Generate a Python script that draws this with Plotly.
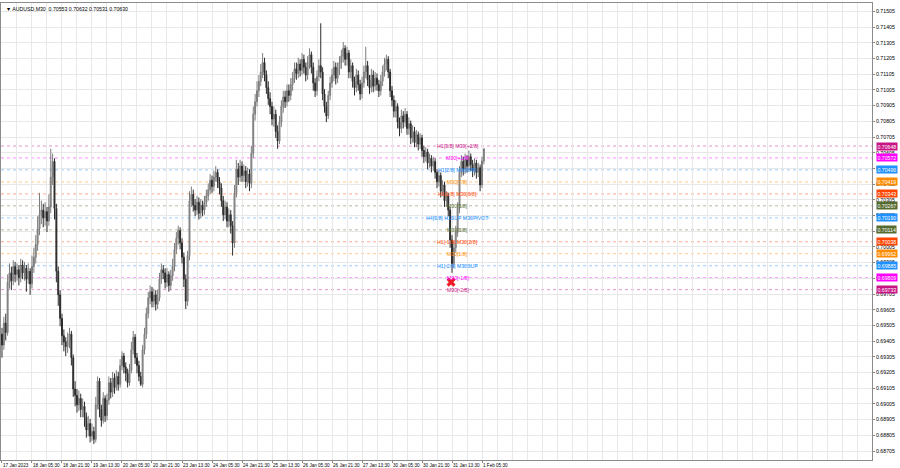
import plotly.graph_objects as go

# ---------------- data (AUDUSD, candles) ----------------
opens = [
0.6945,0.6938,0.6952,0.6946,0.6978,0.6984,0.6979,0.6988,0.6983,0.6986,
0.6981,0.6989,0.6984,0.6987,0.6980,0.6985,0.6977,0.6988,0.6994,0.7002,
0.7012,0.7021,0.7024,0.7019,0.7023,0.7017,0.7026,0.7045,0.7055,0.7025,
0.6985,0.6970,0.6955,0.6944,0.6940,0.6937,0.6941,0.6945,0.6930,0.6910,
0.6906,0.6900,0.6904,0.6897,0.6899,0.6892,0.6884,0.6888,0.6880,0.6883,
0.6878,0.6900,0.6915,0.6897,0.6890,0.6904,0.6893,0.6903,0.6914,0.6908,
0.6917,0.6911,0.6918,0.6913,0.6925,0.6931,0.6924,0.6920,0.6914,0.6922,
0.6935,0.6943,0.6930,0.6925,0.6918,0.6913,0.6935,0.6945,0.6958,0.6968,
0.6972,0.6966,0.6970,0.6964,0.6968,0.6980,0.6986,0.6984,0.6978,0.6983,
0.6976,0.6982,0.6988,0.6999,0.7006,0.7011,0.7003,0.6994,0.6980,0.6966,
0.6995,0.7030,0.7034,0.7027,0.7024,0.7029,0.7022,0.7027,0.7024,0.7029,
0.7033,0.7037,0.7043,0.7039,0.7045,0.7048,0.7042,0.7038,0.7030,0.7021,
0.7026,0.7017,0.7021,0.7014,0.7003,0.7035,0.7050,0.7045,0.7052,0.7046,
0.7049,0.7042,0.7047,0.7041,0.7060,0.7085,0.7093,0.7100,0.7106,0.7112,
0.7118,0.7110,0.7102,0.7095,0.7090,0.7082,0.7085,0.7074,0.7068,0.7080,
0.7090,0.7096,0.7093,0.7100,0.7097,0.7104,0.7108,0.7114,0.7111,0.7117,
0.7113,0.7120,0.7115,0.7110,0.7118,0.7123,0.7115,0.7105,0.7100,0.7109,
0.7116,0.7112,0.7098,0.7090,0.7084,0.7097,0.7105,0.7110,0.7115,0.7108,
0.7114,0.7118,0.7122,0.7127,0.7120,0.7124,0.7112,0.7116,0.7106,0.7102,
0.7110,0.7104,0.7098,0.7105,0.7112,0.7116,0.7107,0.7102,0.7110,0.7103,
0.7108,0.7104,0.7100,0.7106,0.7112,0.7117,0.7120,0.7112,0.7100,0.7094,
0.7087,0.7090,0.7080,0.7076,0.7084,0.7080,0.7085,0.7076,0.7079,0.7070,
0.7074,0.7067,0.7072,0.7066,0.7070,0.7062,0.7058,0.7061,0.7054,0.7057,
0.7052,0.7055,0.7048,0.7042,0.7046,0.7036,0.7040,0.7030,0.7033,0.7024,
0.7005,0.6990,0.7000,0.7010,0.7025,0.7048,0.7055,0.7050,0.7056,0.7052,
0.7058,0.7053,0.7049,0.7054,0.7048,0.7051,0.7040,0.70553]

highs = [
0.6949,0.6956,0.6958,0.6983,0.6990,0.6988,0.6992,0.6991,0.6990,0.6989,
0.6993,0.6992,0.6991,0.6989,0.6990,0.6987,0.6995,0.7000,0.7008,0.7020,
0.7035,0.7030,0.7028,0.7029,0.7026,0.7034,0.7063,0.7060,0.7057,0.7028,
0.6988,0.6973,0.6958,0.6948,0.6943,0.6946,0.6949,0.6947,0.6932,0.6915,
0.6910,0.6909,0.6907,0.6904,0.6902,0.6895,0.6893,0.6891,0.6888,0.6886,
0.6905,0.6918,0.6917,0.6900,0.6908,0.6906,0.6907,0.6918,0.6917,0.6921,
0.6920,0.6922,0.6921,0.6929,0.6934,0.6933,0.6927,0.6923,0.6926,0.6940,
0.6947,0.6945,0.6933,0.6928,0.6921,0.6938,0.6949,0.6962,0.6972,0.6976,
0.6975,0.6974,0.6973,0.6973,0.6984,0.6990,0.6989,0.6987,0.6987,0.6985,
0.6986,0.6993,0.7003,0.7010,0.7014,0.7013,0.7006,0.6997,0.6983,0.6998,
0.7036,0.7039,0.7037,0.7031,0.7033,0.7032,0.7031,0.7030,0.7033,0.7037,
0.7041,0.7047,0.7046,0.7049,0.7052,0.7050,0.7045,0.7041,0.7033,0.7030,
0.7029,0.7025,0.7024,0.7017,0.7040,0.7056,0.7054,0.7056,0.7055,0.7053,
0.7052,0.7051,0.7050,0.7065,0.7090,0.7098,0.7106,0.7110,0.7117,0.7124,
0.7121,0.7113,0.7106,0.7099,0.7093,0.7090,0.7088,0.7078,0.7084,0.7094,
0.7100,0.7100,0.7104,0.7104,0.7108,0.7112,0.7118,0.7118,0.7121,0.7120,
0.7124,0.7123,0.7118,0.7122,0.7127,0.7125,0.7118,0.7108,0.7113,0.7120,
0.7143,0.7115,0.7101,0.7093,0.7100,0.7109,0.7114,0.7119,0.7118,0.7118,
0.7122,0.7126,0.7131,0.7129,0.7128,0.7126,0.7120,0.7118,0.7109,0.7114,
0.7113,0.7107,0.7109,0.7116,0.7128,0.7119,0.7110,0.7114,0.7113,0.7112,
0.7111,0.7107,0.7110,0.7116,0.7121,0.7123,0.7122,0.7114,0.7103,0.7097,
0.7094,0.7092,0.7083,0.7088,0.7087,0.7089,0.7087,0.7083,0.7081,0.7078,
0.7077,0.7075,0.7074,0.7073,0.7072,0.7065,0.7064,0.7063,0.7060,0.7059,
0.7058,0.7057,0.7050,0.7049,0.7048,0.7043,0.7042,0.7036,0.7035,0.7026,
0.7008,0.7004,0.7014,0.7029,0.7052,0.7059,0.7058,0.7060,0.7059,0.7062,
0.7060,0.7056,0.7057,0.7056,0.7054,0.7053,0.7058,0.70632]

lows = [
0.6930,0.6935,0.6941,0.6944,0.6974,0.6973,0.6976,0.6978,0.6979,0.6976,
0.6978,0.6980,0.6979,0.6972,0.6977,0.6970,0.6974,0.6984,0.6990,0.6998,
0.7008,0.7015,0.7013,0.7014,0.7010,0.7014,0.7022,0.7040,0.7018,0.6978,
0.6963,0.6950,0.6938,0.6934,0.6931,0.6933,0.6936,0.6925,0.6905,0.6899,
0.6895,0.6896,0.6892,0.6892,0.6886,0.6879,0.6880,0.6876,0.6877,0.6875,
0.6876,0.6897,0.6892,0.6886,0.6888,0.6889,0.6890,0.6900,0.6904,0.6905,
0.6907,0.6909,0.6909,0.6911,0.6922,0.6920,0.6915,0.6911,0.6912,0.6920,
0.6932,0.6926,0.6920,0.6915,0.6912,0.6911,0.6932,0.6942,0.6955,0.6964,
0.6962,0.6962,0.6960,0.6961,0.6966,0.6977,0.6980,0.6974,0.6975,0.6972,
0.6973,0.6979,0.6985,0.6996,0.7002,0.6999,0.6990,0.6975,0.6961,0.6963,
0.6992,0.7026,0.7023,0.7020,0.7021,0.7018,0.7019,0.7020,0.7021,0.7026,
0.7030,0.7034,0.7035,0.7036,0.7042,0.7038,0.7034,0.7026,0.7017,0.7018,
0.7013,0.7013,0.7009,0.6995,0.7000,0.7032,0.7040,0.7042,0.7042,0.7042,
0.7038,0.7039,0.7036,0.7038,0.7057,0.7081,0.7090,0.7096,0.7103,0.7108,
0.7106,0.7098,0.7091,0.7085,0.7078,0.7077,0.7070,0.7063,0.7066,0.7077,
0.7086,0.7089,0.7090,0.7093,0.7094,0.7100,0.7105,0.7107,0.7108,0.7109,
0.7110,0.7111,0.7106,0.7107,0.7114,0.7111,0.7100,0.7096,0.7097,0.7106,
0.7108,0.7094,0.7086,0.7080,0.7082,0.7094,0.7102,0.7106,0.7104,0.7105,
0.7110,0.7114,0.7118,0.7116,0.7116,0.7108,0.7108,0.7102,0.7097,0.7099,
0.7100,0.7094,0.7095,0.7102,0.7108,0.7103,0.7098,0.7099,0.7099,0.7100,
0.7100,0.7096,0.7097,0.7103,0.7109,0.7113,0.7108,0.7096,0.7090,0.7083,
0.7083,0.7076,0.7071,0.7073,0.7076,0.7077,0.7072,0.7072,0.7066,0.7067,
0.7064,0.7064,0.7062,0.7063,0.7058,0.7054,0.7055,0.7050,0.7051,0.7048,
0.7049,0.7044,0.7038,0.7039,0.7032,0.7033,0.7026,0.7026,0.7020,0.7000,
0.6984,0.6987,0.6997,0.7007,0.7022,0.7045,0.7046,0.7047,0.7048,0.7049,
0.7049,0.7045,0.7046,0.7044,0.7045,0.7036,0.7038,0.70531]

closes = [
0.6938,0.6952,0.6946,0.6978,0.6984,0.6979,0.6988,0.6983,0.6986,0.6981,
0.6989,0.6984,0.6987,0.6980,0.6985,0.6977,0.6988,0.6994,0.7002,0.7012,
0.7021,0.7024,0.7019,0.7023,0.7017,0.7026,0.7045,0.7055,0.7025,0.6985,
0.6970,0.6955,0.6944,0.6940,0.6937,0.6941,0.6945,0.6930,0.6910,0.6906,
0.6900,0.6904,0.6897,0.6899,0.6892,0.6884,0.6888,0.6880,0.6883,0.6878,
0.6900,0.6915,0.6897,0.6890,0.6904,0.6893,0.6903,0.6914,0.6908,0.6917,
0.6911,0.6918,0.6913,0.6925,0.6931,0.6924,0.6920,0.6914,0.6922,0.6935,
0.6943,0.6930,0.6925,0.6918,0.6913,0.6935,0.6945,0.6958,0.6968,0.6972,
0.6966,0.6970,0.6964,0.6968,0.6980,0.6986,0.6984,0.6978,0.6983,0.6976,
0.6982,0.6988,0.6999,0.7006,0.7011,0.7003,0.6994,0.6980,0.6966,0.6995,
0.7030,0.7034,0.7027,0.7024,0.7029,0.7022,0.7027,0.7024,0.7029,0.7033,
0.7037,0.7043,0.7039,0.7045,0.7048,0.7042,0.7038,0.7030,0.7021,0.7026,
0.7017,0.7021,0.7014,0.7003,0.7035,0.7050,0.7045,0.7052,0.7046,0.7049,
0.7042,0.7047,0.7041,0.7060,0.7085,0.7093,0.7100,0.7106,0.7112,0.7118,
0.7110,0.7102,0.7095,0.7090,0.7082,0.7085,0.7074,0.7068,0.7080,0.7090,
0.7096,0.7093,0.7100,0.7097,0.7104,0.7108,0.7114,0.7111,0.7117,0.7113,
0.7120,0.7115,0.7110,0.7118,0.7123,0.7115,0.7105,0.7100,0.7109,0.7116,
0.7112,0.7098,0.7090,0.7084,0.7097,0.7105,0.7110,0.7115,0.7108,0.7114,
0.7118,0.7122,0.7127,0.7120,0.7124,0.7112,0.7116,0.7106,0.7102,0.7110,
0.7104,0.7098,0.7105,0.7112,0.7116,0.7107,0.7102,0.7110,0.7103,0.7108,
0.7104,0.7100,0.7106,0.7112,0.7117,0.7120,0.7112,0.7100,0.7094,0.7087,
0.7090,0.7080,0.7076,0.7084,0.7080,0.7085,0.7076,0.7079,0.7070,0.7074,
0.7067,0.7072,0.7066,0.7070,0.7062,0.7058,0.7061,0.7054,0.7057,0.7052,
0.7055,0.7048,0.7042,0.7046,0.7036,0.7040,0.7030,0.7033,0.7024,0.7005,
0.6990,0.7000,0.7010,0.7025,0.7048,0.7055,0.7050,0.7056,0.7052,0.7058,
0.7053,0.7049,0.7054,0.7048,0.7051,0.7040,0.70553,0.70630]

time_labels = ["17 Jan 2023", "18 Jan 05:30", "18 Jan 21:30", "19 Jan 13:30",
               "20 Jan 05:30", "20 Jan 21:30", "23 Jan 13:30", "24 Jan 05:30",
               "24 Jan 21:30", "25 Jan 13:30", "26 Jan 05:30", "26 Jan 21:30",
               "27 Jan 13:30", "30 Jan 05:30", "30 Jan 21:30", "31 Jan 13:30",
               "1 Feb 05:30"]
bars_per_label = 16

level_prices = [0.70648, 0.70572, 0.70496, 0.70419, 0.70343, 0.70267, 0.70190,
                0.70114, 0.70038, 0.69962, 0.69885, 0.69809, 0.69733]
level_names = ["H1[3/8] M30[+2/8]", "M30[+1/8]", "H1[2/8] M30[8/8]", "M30[7/8]",
               "H1[1/8] M30[6/8]", "M30[5/8]", "H4[3/8] H1SUP M30PIVOT", "M30[3/8]",
               "H1[-1/8] M30[2/8]", "M30[1/8]", "H1[-2/8] M30SUP", "M30[-1/8]",
               "M30[-2/8]"]
level_colors = ["#C71585", "#FF00FF", "#1E90FF", "#FF8C00", "#FF4500", "#556B2F",
                "#1E90FF", "#556B2F", "#FF4500", "#FF8C00", "#1E90FF", "#FF00FF",
                "#C71585"]
level_label_bar = 243

signal_bar = [239.5]
signal_price = [0.69781]

axis_first = 0.68705
axis_step = 0.001
axis_count = 29

title_text = "\u25BC AUDUSD,M30  0.70553 0.70632 0.70531 0.70630"

# ---------------- figure ----------------
n = min(len(opens), len(highs), len(lows), len(closes))
x = list(range(n))
o, c = opens[:n], closes[:n]
h = [max(a, b, d) for a, b, d in zip(highs[:n], o, c)]
l = [min(a, b, d) for a, b, d in zip(lows[:n], o, c)]

FONT = "Liberation Sans"
FS = 5.2
FSX = 4.6
fig = go.Figure()

for p, col in zip(level_prices, level_colors):
    fig.add_shape(type="line", xref="paper", x0=0, x1=1, yref="y", y0=p, y1=p,
                  line=dict(color=col, width=1, dash="dot"), opacity=0.45, layer="below")

fig.add_trace(go.Candlestick(
    x=x, open=o, high=h, low=l, close=c,
    increasing=dict(line=dict(color="#7c7c7c", width=1), fillcolor="#9a9a9a"),
    decreasing=dict(line=dict(color="#2b2b2b", width=1), fillcolor="#2b2b2b"),
    whiskerwidth=0, showlegend=False, hoverinfo="skip"))

fig.add_trace(go.Scatter(x=signal_bar, y=signal_price, mode="markers",
                         marker=dict(symbol="x", size=8, color="#EE1C25",
                                     line=dict(width=0)),
                         showlegend=False, hoverinfo="skip"))

for p, name, col in zip(level_prices, level_names, level_colors):
    fig.add_annotation(x=level_label_bar, y=p, xref="x", yref="y", text=name,
                       showarrow=False, xanchor="center", yanchor="middle",
                       font=dict(family=FONT, size=FS, color=col))
    fig.add_annotation(x=1, y=p, xref="paper", yref="y", text=f"{p:.5f}",
                       showarrow=False, xanchor="left", yanchor="middle", xshift=4,
                       bgcolor=col, borderpad=0.5,
                       font=dict(family=FONT, size=FS, color="white"))

fig.add_annotation(x=0, y=1, xref="paper", yref="paper", text=title_text,
                   showarrow=False, xanchor="left", yanchor="top", xshift=3, yshift=-1,
                   font=dict(family=FONT, size=FS, color="black"))

tickvals_x = [k * bars_per_label for k in range(len(time_labels))]
tickvals_y = [axis_first + k * axis_step for k in range(axis_count)]

fig.update_layout(
    width=900, height=468,
    margin=dict(l=1, r=28, t=3, b=8, autoexpand=False),
    paper_bgcolor="white", plot_bgcolor="white",
    showlegend=False,
    font=dict(family=FONT, size=FS, color="black"),
    xaxis=dict(range=[-0.53, 464.0], tickvals=tickvals_x, ticktext=time_labels,
               ticklabelposition="outside right", tickangle=0, automargin=False,
               ticks="outside", ticklen=2,
               tickcolor="#888", tickfont=dict(family=FONT, size=FSX, color="black"),
               showgrid=True, gridcolor="#e8e8e8", gridwidth=1,
               minor=dict(tick0=0, dtick=bars_per_label // 2, showgrid=True,
                          gridcolor="#e8e8e8", gridwidth=1, ticks=""),
               rangeslider=dict(visible=False), zeroline=False,
               showline=True, linecolor="#8c8c8c", linewidth=1, mirror=True),
    yaxis=dict(range=[0.68648, 0.71559], side="right", tickvals=tickvals_y,
               ticktext=[f"{v:.5f}" for v in tickvals_y], ticks="outside", ticklen=2,
               automargin=False,
               tickcolor="#888", tickfont=dict(family=FONT, size=FS, color="black"),
               showgrid=True, gridcolor="#e8e8e8", gridwidth=1, zeroline=False,
               showline=True, linecolor="#8c8c8c", linewidth=1, mirror=True),
)

fig.write_html("out.html", config={"displayModeBar": False},
               post_script="document.body.style.margin='0';document.body.style.overflow='hidden';")
